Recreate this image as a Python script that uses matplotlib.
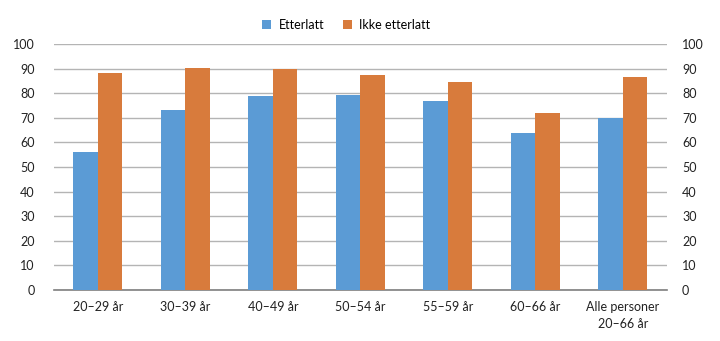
import matplotlib.pyplot as plt
import numpy as np

categories = ["20–29 år", "30–39 år", "40–49 år", "50–54 år", "55–59 år", "60–66 år", "Alle personer\n20–66 år"]
etterlatt = [56.2, 73.0, 78.9, 79.4, 77.0, 63.7, 70.0]
ikke_etterlatt = [88.3, 90.1, 89.7, 87.3, 84.4, 72.1, 86.7]
yticks = list(range(0, 101, 10))

BLUE = "#5B9BD5"
ORANGE = "#D87B3C"

plt.rcParams["font.family"] = ["Lato", "DejaVu Sans"]
FS = 9

fig = plt.figure(figsize=(7.2, 3.41), dpi=100)
ax = fig.add_axes([0.075, 0.1496, 0.851, 0.7214])

x = np.arange(len(categories))
w = 0.28
ax.bar(x - w / 2, etterlatt, w, color=BLUE, linewidth=0, label="Etterlatt", zorder=3)
ax.bar(x + w / 2, ikke_etterlatt, w, color=ORANGE, linewidth=0, label="Ikke etterlatt", zorder=3)

ax.set_xlim(-0.5, len(categories) - 0.5)
ax.set_ylim(0, 100)
ax.set_yticks(yticks)
ax.set_xticks(x)
ax.set_xticklabels(categories, fontsize=FS, linespacing=1.45)
ax.tick_params(axis="both", length=0, labelsize=FS, colors="#222222")
ax.tick_params(axis="y", pad=14)
ax.tick_params(axis="x", pad=8)
ax.grid(axis="y", color="#b4b4b4", linewidth=1.0, zorder=0)
for s in ["top", "left", "right"]:
    ax.spines[s].set_visible(False)
ax.spines["bottom"].set_color("#7f7f7f")
ax.spines["bottom"].set_linewidth(1.2)

ax2 = ax.twinx()
ax2.set_ylim(0, 100)
ax2.set_yticks(yticks)
ax2.tick_params(axis="y", length=0, labelsize=FS, colors="#222222", pad=11)
for s in ax2.spines.values():
    s.set_visible(False)

fig.legend(loc="center", bbox_to_anchor=(0.481, 0.927), ncol=2, frameon=False,
           fontsize=FS, handlelength=0.7, handleheight=0.7, columnspacing=1.5, handletextpad=0.6)

fig.savefig("out.png", dpi=100)
